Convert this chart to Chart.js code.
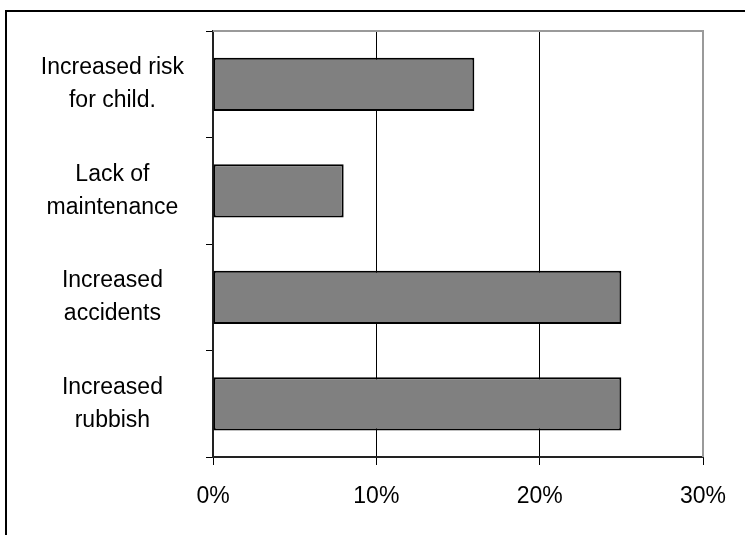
<!DOCTYPE html>
<html>
<head>
<meta charset="utf-8">
<script src="https://cdn.jsdelivr.net/npm/chart.js@4/dist/chart.umd.min.js"></script>
<style>
  html, body { margin: 0; padding: 0; background: #fff; overflow: hidden; }
  #wrap { position: relative; width: 745px; height: 535px; overflow: hidden; }
  #frame { position: absolute; left: 5px; top: 10px; width: 800px; height: 600px;
           border: 2px solid #000; box-sizing: border-box; }
  canvas { position: absolute; left: 0; top: 0; }
</style>
</head>
<body>
<div id="wrap">
  <div id="frame"></div>
  <canvas id="c" width="745" height="535"></canvas>
</div>
<script>
// Problems reported, share of respondents (%)
const categories = [
  ['Increased risk', 'for child.'],
  ['Lack of', 'maintenance'],
  ['Increased', 'accidents'],
  ['Increased', 'rubbish']
];
const shares = [16, 8, 25, 25];
const xTicks = [0, 10, 20, 30];

const FONT = 'Liberation Sans, Arial, sans-serif';

// Grey top and right edges of the plot area
const plotFrame = {
  id: 'plotFrame',
  afterDatasetsDraw(chart) {
    const { ctx, chartArea: a } = chart;
    ctx.save();
    ctx.strokeStyle = '#9a9a9a';
    ctx.lineWidth = 2;
    ctx.beginPath();
    ctx.moveTo(a.left, a.top);
    ctx.lineTo(a.right, a.top);
    ctx.lineTo(a.right, a.bottom);
    ctx.stroke();
    ctx.restore();
  }
};

new Chart(document.getElementById('c'), {
  type: 'bar',
  data: {
    labels: categories,
    datasets: [{
      data: shares,
      backgroundColor: '#808080',
      borderColor: '#000',
      borderWidth: 2,
      borderSkipped: false,
      categoryPercentage: 1,
      barPercentage: 0.5
    }]
  },
  options: {
    indexAxis: 'y',
    responsive: false,
    animation: false,
    layout: { padding: { top: 31, right: 42, left: 0, bottom: 0 } },
    plugins: { legend: { display: false }, tooltip: { enabled: false } },
    scales: {
      x: {
        min: 0, max: 30,
        afterBuildTicks(scale) { scale.ticks = xTicks.map(v => ({ value: v })); },
        afterFit(scale) { scale.height = 535 - 457; },
        grid: {
          color: ctx => (ctx.tick && ctx.tick.value === 30) ? '#9a9a9a' : '#000',
          lineWidth: 1,
          tickColor: '#000',
          tickLength: 8
        },
        border: { color: '#222', width: 2 },
        ticks: {
          color: '#000',
          padding: 18,
          font: { family: FONT, size: 23 },
          callback: v => v + '%'
        }
      },
      y: {
        afterFit(scale) {
          scale.width = 213;
          scale.paddingTop = 0;
          scale.paddingBottom = 0;
        },
        grid: {
          drawOnChartArea: false,
          offset: true,
          color: '#000',
          tickLength: 7
        },
        border: { color: '#222', width: 2 },
        ticks: {
          color: '#000',
          crossAlign: 'center',
          padding: 22,
          font: { family: FONT, size: 23, lineHeight: 1.43 }
        }
      }
    }
  },
  plugins: [plotFrame]
});
</script>
</body>
</html>
